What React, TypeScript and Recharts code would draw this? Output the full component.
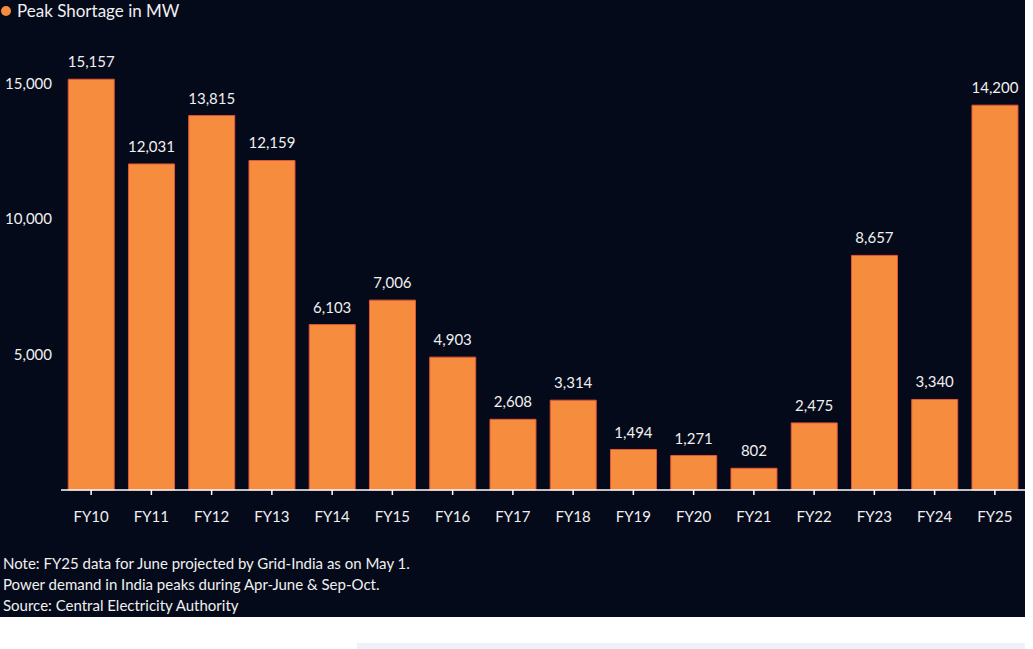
import React from "react";
import { BarChart, Bar, XAxis, YAxis, LabelList } from "recharts";

const categories = ["FY10","FY11","FY12","FY13","FY14","FY15","FY16","FY17","FY18","FY19","FY20","FY21","FY22","FY23","FY24","FY25"];
const shortage = [15157,12031,13815,12159,6103,7006,4903,2608,3314,1494,1271,802,2475,8657,3340,14200];
const yTicks = [5000, 10000, 15000];
const legendLabel = "Peak Shortage in MW";
const notes = [
  "Note: FY25 data for June projected by Grid-India as on May 1.",
  "Power demand in India peaks during Apr-June & Sep-Oct.",
  "Source: Central Electricity Authority",
];

const data = categories.map((c, i) => ({ name: c, value: shortage[i] }));

const FONT = "Lato, 'Open Sans', sans-serif";
const BG = "#050a1a";
const ORANGE = "#f68d3e";
const TEXT = "#f0f0f0";

export default function App() {
  return (
    <div style={{ position: "absolute", left: 0, top: 0, width: 1033, height: 649, background: "#ffffff", fontFamily: FONT }}>
      <div style={{ position: "absolute", left: 357, top: 643, width: 668, height: 6, background: "#eef2f8" }} />
      <div style={{ position: "absolute", left: 0, top: 0, width: 1025, height: 617, background: BG, overflow: "hidden" }}>
        <div style={{ position: "absolute", left: 0, top: 0, height: 21, display: "flex", alignItems: "center" }}>
          <span style={{ display: "inline-block", width: 10, height: 10, borderRadius: 5, background: ORANGE, marginLeft: 1, marginRight: 6 }} />
          <span style={{ color: TEXT, fontSize: 17, lineHeight: "21px" }}>{legendLabel}</span>
        </div>
        <div style={{ position: "absolute", left: 0, top: 0 }}>
          <BarChart width={1025} height={540} data={data} margin={{ top: 56.4, right: 0, bottom: 0, left: 0 }} barCategoryGap="12%">
            <XAxis
              dataKey="name"
              height={50}
              tickSize={5}
              tickMargin={16}
              axisLine={{ stroke: "#ffffff", strokeWidth: 1.5 }}
              tickLine={{ stroke: "#ffffff", strokeWidth: 1.5 }}
              tick={{ fill: TEXT, fontSize: 15, fontFamily: FONT }}
              interval={0}
            />
            <YAxis
              width={61}
              domain={[0, 16000]}
              ticks={yTicks}
              axisLine={false}
              tickLine={false}
              tickSize={0}
              tickMargin={9}
              tick={{ fill: TEXT, fontSize: 15, fontFamily: FONT }}
              tickFormatter={(v: number) => v.toLocaleString("en-US")}
            />
            <Bar dataKey="value" fill={ORANGE} stroke="#e5553a" strokeWidth={1} isAnimationActive={false}>
              <LabelList
                dataKey="value"
                position="top"
                offset={12}
                fill={TEXT}
                fontSize={15}
                fontFamily={FONT}
                formatter={(v: number) => v.toLocaleString("en-US")}
              />
            </Bar>
          </BarChart>
        </div>
        <div style={{ position: "absolute", left: 3, top: 553, color: TEXT, fontSize: 15, lineHeight: "21px" }}>
          {notes.map((n) => (
            <div key={n}>{n}</div>
          ))}
        </div>
      </div>
    </div>
  );
}
